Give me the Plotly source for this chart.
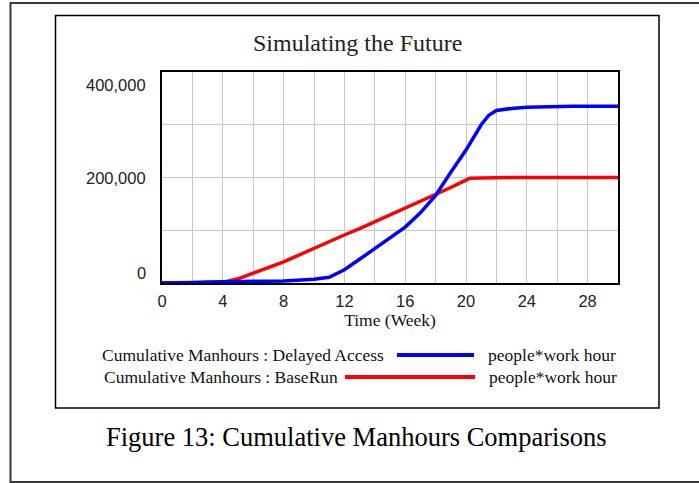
import plotly.graph_objects as go

# ---------------- data ----------------
weeks_blue = [0, 1, 2, 3, 4, 5, 6, 7, 8, 9, 10, 11, 12, 13, 14, 15, 16, 17, 18, 19, 20, 21, 21.5, 22, 23, 24, 25, 26, 27, 28, 29, 30]
delayed_access = [0, 0, 1000, 2000, 2000, 2500, 3000, 3500, 4000, 5000, 7000, 11000, 25000, 45000, 66000, 85000,
                  106000, 133000, 166000, 210000, 252000, 300000, 318000, 327000, 331000, 333000, 334000, 335000,
                  335000, 335000, 335000, 335000]

weeks_red = [0, 1, 2, 3, 4, 5, 6, 7, 8, 9, 10, 11, 12, 13, 14, 15, 16, 17, 18, 19, 20, 20.25, 21, 22, 23, 24, 25, 26, 27, 28, 29, 30]
base_run = [0, 0, 0, 0, 1000, 8000, 19000, 29000, 40000, 53000, 66000, 78000, 91000, 103000, 116000, 128000,
            141000, 154000, 167000, 181000, 195000, 198500, 199000, 200000, 200000, 200000, 200000, 200000,
            200000, 200000, 200000, 200000]

x_tickvals = [0, 4, 8, 12, 16, 20, 24, 28]
y_tickvals = [0, 200000, 400000]
y_ticktext = ["0", "200,000", "400,000"]

series_names = ["Cumulative Manhours : Delayed Access", "Cumulative Manhours : BaseRun"]
units = "people*work hour"
title_text = "Simulating the Future"
xaxis_title = "Time (Week)"
caption = "Figure 13: Cumulative Manhours Comparisons"

# ---------------- layout geometry (pixels) ----------------
W, H = 699, 483
L, R, T, B = 162, 618, 72, 283
PW, PH = R - L, B - T


def px(x):
    return (x - L) / PW


def py(y):
    return (B - y) / PH


SERIF = "Liberation Serif, Times New Roman, serif"
SANS = "Liberation Sans, Arial, sans-serif"

fig = go.Figure()
fig.add_trace(go.Scatter(x=weeks_red, y=base_run, mode="lines", name=series_names[1],
                         line=dict(color="#ff0000", width=3.5)))
fig.add_trace(go.Scatter(x=weeks_blue, y=delayed_access, mode="lines", name=series_names[0],
                         line=dict(color="#0000ff", width=3.5)))

shapes = []
# outer page frame
shapes.append(dict(type="rect", xref="paper", yref="paper", x0=px(10.5), x1=px(705), y0=py(3), y1=py(482),
                   line=dict(color="#3a3a3a", width=2), layer="below"))
# inner chart frame
shapes.append(dict(type="rect", xref="paper", yref="paper", x0=px(55.5), x1=px(659), y0=py(15.5), y1=py(408),
                   line=dict(color="#000000", width=1.5), layer="below"))
# legend line samples
shapes.append(dict(type="line", xref="paper", yref="paper", x0=px(397), x1=px(474), y0=py(355), y1=py(355),
                   line=dict(color="#0000ff", width=4)))
shapes.append(dict(type="line", xref="paper", yref="paper", x0=px(345), x1=px(475), y0=py(377), y1=py(377),
                   line=dict(color="#ff0000", width=4)))

annotations = []
# y tick labels (Vensim style: top label below the top, bottom label above the bottom)
yshifts = [10, 0, -13]
for v, t, s in zip(y_tickvals, y_ticktext, yshifts):
    annotations.append(dict(xref="paper", yref="y", x=0, y=v, text=t, showarrow=False, xanchor="right",
                            yanchor="middle", xshift=-14, yshift=s, font=dict(family=SANS, size=16.5, color="#222")))
# title
annotations.append(dict(xref="paper", yref="paper", x=px(357), y=py(43), text=title_text, showarrow=False,
                        xanchor="center", yanchor="middle", font=dict(family=SERIF, size=24, color="#222")))
# legend text
annotations.append(dict(xref="paper", yref="paper", x=px(100), y=py(355), text=series_names[0], showarrow=False,
                        xanchor="left", yanchor="middle", font=dict(family=SERIF, size=17.5, color="#111")))
annotations.append(dict(xref="paper", yref="paper", x=px(102), y=py(377), text=series_names[1], showarrow=False,
                        xanchor="left", yanchor="middle", font=dict(family=SERIF, size=17.5, color="#111")))
annotations.append(dict(xref="paper", yref="paper", x=px(486), y=py(355), text=units, showarrow=False,
                        xanchor="left", yanchor="middle", font=dict(family=SERIF, size=17.5, color="#111")))
annotations.append(dict(xref="paper", yref="paper", x=px(487), y=py(377), text=units, showarrow=False,
                        xanchor="left", yanchor="middle", font=dict(family=SERIF, size=17.5, color="#111")))
# caption
annotations.append(dict(xref="paper", yref="paper", x=px(356.5), y=py(437), text=caption, showarrow=False,
                        xanchor="center", yanchor="middle", font=dict(family=SERIF, size=26.5, color="#000")))

fig.update_layout(
    width=W, height=H,
    margin=dict(l=L, r=W - R, t=T, b=H - B, pad=0),
    paper_bgcolor="white", plot_bgcolor="white",
    showlegend=False,
    shapes=shapes, annotations=annotations,
    xaxis=dict(range=[0, 30], tickvals=x_tickvals, showgrid=True, gridcolor="#c8c8c8", gridwidth=1,
               minor=dict(dtick=2, tick0=0, showgrid=True, gridcolor="#c8c8c8", gridwidth=1),
               showline=True, linecolor="#000", linewidth=2, mirror=True, zeroline=False,
               ticks="", ticklabelstandoff=2, layer="below traces",
               tickfont=dict(family=SANS, size=16.5, color="#222"),
               title=dict(text=xaxis_title, font=dict(family=SERIF, size=17.5, color="#111"), standoff=4)),
    yaxis=dict(range=[0, 400000], tickvals=y_tickvals, showticklabels=False, showgrid=True,
               gridcolor="#c8c8c8", gridwidth=1,
               minor=dict(dtick=100000, tick0=0, showgrid=True, gridcolor="#c8c8c8", gridwidth=1),
               showline=True, linecolor="#000", linewidth=2, mirror=True, zeroline=False,
               ticks="", layer="below traces"),
)

fig.write_html("out.html", config={"displayModeBar": False},
               post_script="document.body.style.margin='0';document.body.style.overflow='hidden';")
